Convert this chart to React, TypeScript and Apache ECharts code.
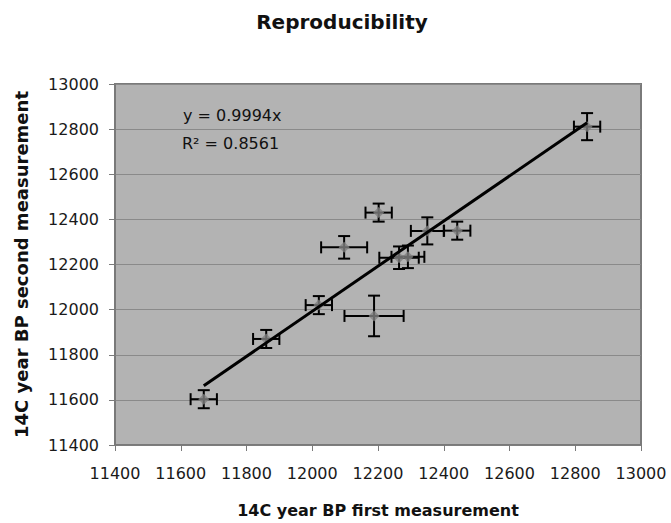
import React, { useEffect, useRef } from "react";
import * as echarts from "echarts";

const titleText = "Reproducibility";
const xAxisTitle = "14C year BP first measurement";
const yAxisTitle = "14C year BP second measurement";

const xValues = [11670, 11860, 12020, 12097, 12202, 12188, 12264, 12291, 12350, 12441, 12836];
const yValues = [11603, 11870, 12020, 12276, 12430, 11972, 12230, 12234, 12349, 12350, 12811];
const xErrors = [40, 40, 40, 70, 40, 90, 60, 50, 50, 40, 40];
const yErrors = [40, 40, 40, 50, 40, 90, 50, 50, 60, 40, 60];

const trendSlope = 0.9994;
const rSquared = 0.8561;

const axisMin = 11400;
const axisMax = 13000;
const axisStep = 200;

export default function App() {
  const ref = useRef<HTMLDivElement>(null);

  useEffect(() => {
    document.body.style.margin = "0";
    if (!ref.current) return;
    const chart = echarts.init(ref.current, undefined, { renderer: "svg" });

    const points = xValues.map((x, i) => [x, yValues[i]]);
    const errData = xValues.map((x, i) => [x, yValues[i], xErrors[i], yErrors[i]]);
    const xMinData = Math.min(...xValues);
    const xMaxData = Math.max(...xValues);
    const trend = [
      [xMinData, trendSlope * xMinData],
      [xMaxData, trendSlope * xMaxData],
    ];

    const font = "DejaVu Sans";
    const axisCommon = {
      type: "value" as const,
      min: axisMin,
      max: axisMax,
      interval: axisStep,
      axisLine: { show: true, lineStyle: { color: "#7a7a7a", width: 1.5 } },
      axisTick: { show: true, length: 6, lineStyle: { color: "#7a7a7a", width: 1 } },
    };

    chart.setOption({
      animation: false,
      backgroundColor: "#ffffff",
      title: {
        text: titleText,
        left: 337,
        top: 7,
        textAlign: "center",
        textStyle: { fontFamily: font, fontWeight: "bold", fontSize: 20, color: "#111" },
      },
      grid: {
        left: 115,
        right: 30,
        top: 84,
        bottom: 78,
        show: true,
        backgroundColor: "#b3b3b3",
        borderColor: "#7a7a7a",
        borderWidth: 2,
      },
      xAxis: {
        ...axisCommon,
        name: xAxisTitle,
        nameLocation: "middle",
        nameGap: 57,
        nameTextStyle: { fontFamily: font, fontWeight: "bold", fontSize: 16, color: "#111" },
        splitLine: { show: false },
        axisLabel: {
          fontFamily: font,
          fontSize: 16,
          color: "#1a1a1a",
          margin: 20,
          formatter: (v: number) => String(v),
        },
      },
      yAxis: {
        ...axisCommon,
        name: yAxisTitle,
        nameLocation: "middle",
        nameGap: 85,
        nameTextStyle: { fontFamily: font, fontWeight: "bold", fontSize: 18, color: "#111" },
        splitLine: { show: true, lineStyle: { color: "#8a8a8a", width: 1 } },
        axisLabel: {
          fontFamily: font,
          fontSize: 16,
          color: "#1a1a1a",
          margin: 16,
          formatter: (v: number) => String(v),
        },
      },
      graphic: [
        {
          type: "text",
          left: 183,
          top: 107,
          z: 10,
          style: { text: `y = ${trendSlope}x`, font: `16px '${font}'`, fill: "#111" },
        },
        {
          type: "text",
          left: 182,
          top: 135,
          z: 10,
          style: { text: `R² = ${rSquared}`, font: `16px '${font}'`, fill: "#111" },
        },
      ],
      series: [
        {
          type: "custom",
          z: 2,
          data: errData,
          renderItem: (params: any, api: any) => {
            const x = api.value(0);
            const y = api.value(1);
            const xe = api.value(2);
            const ye = api.value(3);
            const l = api.coord([x - xe, y]);
            const r = api.coord([x + xe, y]);
            const t = api.coord([x, y + ye]);
            const b = api.coord([x, y - ye]);
            const cap = 6;
            const st = { stroke: "#000", lineWidth: 2 };
            return {
              type: "group",
              children: [
                { type: "line", shape: { x1: l[0], y1: l[1], x2: r[0], y2: r[1] }, style: st },
                { type: "line", shape: { x1: l[0], y1: l[1] - cap, x2: l[0], y2: l[1] + cap }, style: st },
                { type: "line", shape: { x1: r[0], y1: r[1] - cap, x2: r[0], y2: r[1] + cap }, style: st },
                { type: "line", shape: { x1: t[0], y1: t[1], x2: b[0], y2: b[1] }, style: st },
                { type: "line", shape: { x1: t[0] - cap, y1: t[1], x2: t[0] + cap, y2: t[1] }, style: st },
                { type: "line", shape: { x1: b[0] - cap, y1: b[1], x2: b[0] + cap, y2: b[1] }, style: st },
              ],
            };
          },
        },
        {
          type: "scatter",
          z: 3,
          data: points,
          symbol: "diamond",
          symbolSize: 11,
          itemStyle: { color: "#7f7f7f" },
        },
        {
          type: "line",
          z: 4,
          data: trend,
          symbol: "none",
          lineStyle: { color: "#000", width: 3 },
        },
      ],
    });

    return () => chart.dispose();
  }, []);

  return <div ref={ref} style={{ width: 671, height: 523 }} />;
}
